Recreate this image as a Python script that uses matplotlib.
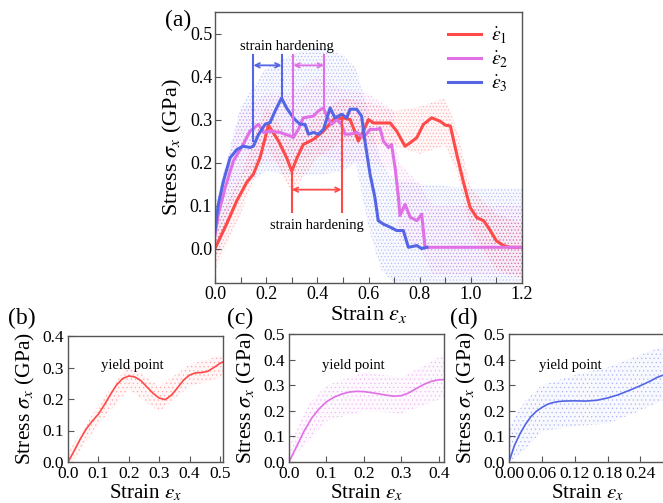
import matplotlib.pyplot as plt
import numpy as np

plt.rcParams['font.family'] = 'Liberation Serif'
plt.rcParams['mathtext.fontset'] = 'stix'
plt.rcParams['hatch.linewidth'] = 0.5

RED = '#ff4a4a'
VIOLET = '#e070e6'
BLUE = '#5466e6'

# --- (a) stress-strain curves for the three strain rates ---
x1 = [0, 0.046, 0.085, 0.124, 0.15, 0.176, 0.209, 0.248, 0.28, 0.30, 0.32, 0.345, 0.385,
      0.424, 0.463, 0.50, 0.528, 0.548, 0.56, 0.58, 0.60, 0.62, 0.685, 0.71, 0.743, 0.763,
      0.789, 0.815, 0.847, 0.88, 0.90, 0.92, 0.945, 0.97, 0.997, 1.023, 1.05, 1.076, 1.10,
      1.128, 1.154, 1.2]
s1 = [0, 0.058, 0.111, 0.154, 0.173, 0.211, 0.287, 0.25, 0.211, 0.18, 0.21, 0.242, 0.254,
      0.273, 0.30, 0.304, 0.30, 0.27, 0.25, 0.273, 0.30, 0.292, 0.292, 0.273, 0.238, 0.246,
      0.258, 0.289, 0.304, 0.296, 0.287, 0.285, 0.219, 0.157, 0.096, 0.072, 0.065, 0.042,
      0.018, 0.007, 0.003, 0.003]

x2 = [0, 0.013, 0.04, 0.072, 0.11, 0.137, 0.17, 0.19, 0.215, 0.254, 0.293, 0.306, 0.326,
      0.345, 0.385, 0.404, 0.424, 0.437, 0.456, 0.476, 0.495, 0.508, 0.528, 0.554, 0.58,
      0.606, 0.632, 0.645, 0.658, 0.678, 0.69, 0.704, 0.717, 0.723, 0.743, 0.763, 0.789,
      0.808, 0.821, 1.2]
s2 = [0.03, 0.08, 0.142, 0.204, 0.242, 0.273, 0.289, 0.27, 0.273, 0.27, 0.262, 0.258,
      0.277, 0.304, 0.308, 0.32, 0.327, 0.308, 0.289, 0.30, 0.289, 0.266, 0.266, 0.27,
      0.258, 0.277, 0.277, 0.28, 0.25, 0.235, 0.242, 0.188, 0.119, 0.077, 0.103, 0.073,
      0.065, 0.08, 0.003, 0.003]

x3 = [0, 0.013, 0.033, 0.059, 0.085, 0.11, 0.137, 0.15, 0.17, 0.196, 0.215, 0.235, 0.26,
      0.28, 0.306, 0.332, 0.352, 0.365, 0.385, 0.404, 0.424, 0.45, 0.469, 0.495, 0.515,
      0.528, 0.554, 0.573, 0.586, 0.606, 0.625, 0.638, 0.658, 0.684, 0.71, 0.736, 0.756,
      0.789, 0.808, 0.828]
s3 = [0.042, 0.103, 0.157, 0.211, 0.23, 0.238, 0.235, 0.238, 0.265, 0.289, 0.293, 0.32,
      0.35, 0.327, 0.304, 0.289, 0.289, 0.266, 0.27, 0.266, 0.277, 0.327, 0.304, 0.312,
      0.304, 0.324, 0.324, 0.308, 0.25, 0.173, 0.119, 0.065, 0.057, 0.05, 0.042, 0.042,
      0.003, 0.007, 0.0, 0.003]

# spread of the raw MD points around each curve
cx1 = [0, 0.1, 0.2, 0.3, 0.4, 0.5, 0.6, 0.7, 0.8, 0.9, 0.95, 1.0, 1.1, 1.2]
lo1 = [-0.05, 0.08, 0.24, 0.13, 0.21, 0.25, 0.24, 0.24, 0.22, 0.24, 0.17, 0.04, -0.05, -0.07]
hi1 = [0.05, 0.17, 0.33, 0.25, 0.31, 0.35, 0.34, 0.32, 0.33, 0.35, 0.27, 0.14, 0.08, 0.06]

cx2 = [0, 0.1, 0.2, 0.3, 0.4, 0.5, 0.6, 0.7, 0.72, 0.8, 0.85, 1.0, 1.2]
lo2 = [-0.02, 0.17, 0.2, 0.2, 0.22, 0.2, 0.2, 0.18, 0.02, 0.0, -0.06, -0.06, -0.06]
hi2 = [0.08, 0.32, 0.36, 0.36, 0.4, 0.37, 0.36, 0.32, 0.2, 0.15, 0.1, 0.1, 0.1]

cx3 = [0, 0.1, 0.2, 0.3, 0.4, 0.5, 0.55, 0.6, 0.65, 0.7, 0.8, 1.0, 1.2]
lo3 = [-0.03, 0.14, 0.18, 0.17, 0.17, 0.18, 0.2, 0.05, -0.05, -0.08, -0.08, -0.08, -0.08]
hi3 = [0.1, 0.33, 0.42, 0.45, 0.47, 0.45, 0.42, 0.32, 0.2, 0.16, 0.15, 0.14, 0.14]

# --- (b)-(d) smoothed initial parts ---
xb = [0, 0.02, 0.04, 0.06, 0.08, 0.10, 0.12, 0.14, 0.16, 0.18, 0.20, 0.22, 0.24, 0.26,
      0.28, 0.30, 0.32, 0.34, 0.36, 0.38, 0.40, 0.42, 0.44, 0.46, 0.48, 0.50, 0.51]
sb = [0, 0.035, 0.072, 0.105, 0.13, 0.152, 0.182, 0.215, 0.245, 0.265, 0.273, 0.27,
      0.258, 0.238, 0.218, 0.203, 0.198, 0.212, 0.235, 0.26, 0.276, 0.283, 0.284, 0.288,
      0.30, 0.313, 0.318]
bx = [0, 0.1, 0.2, 0.3, 0.4, 0.51]
blo = [-0.02, 0.12, 0.23, 0.16, 0.24, 0.27]
bhi = [0.03, 0.18, 0.31, 0.24, 0.31, 0.34]

xc = [0, 0.02, 0.04, 0.06, 0.08, 0.10, 0.12, 0.14, 0.16, 0.18, 0.20, 0.22, 0.24, 0.26,
      0.28, 0.30, 0.32, 0.34, 0.36, 0.38, 0.40, 0.414]
sc = [0, 0.06, 0.12, 0.17, 0.207, 0.235, 0.253, 0.265, 0.273, 0.276, 0.275, 0.271,
      0.266, 0.261, 0.257, 0.259, 0.27, 0.287, 0.303, 0.315, 0.321, 0.322]
cx = [0, 0.05, 0.1, 0.2, 0.3, 0.414]
clo = [0.0, 0.08, 0.16, 0.2, 0.19, 0.25]
chi = [0.06, 0.22, 0.3, 0.35, 0.33, 0.42]

xd = [0, 0.01, 0.02, 0.03, 0.04, 0.05, 0.06, 0.07, 0.08, 0.09, 0.10, 0.12, 0.14, 0.16,
      0.18, 0.20, 0.22, 0.24, 0.26, 0.27, 0.28]
sd = [0, 0.065, 0.11, 0.147, 0.177, 0.198, 0.213, 0.225, 0.232, 0.236, 0.238, 0.239,
      0.238, 0.241, 0.25, 0.263, 0.28, 0.298, 0.318, 0.33, 0.338]
dx = [0, 0.03, 0.06, 0.12, 0.18, 0.24, 0.28]
dlo = [0.0, 0.05, 0.12, 0.14, 0.15, 0.2, 0.24]
dhi = [0.14, 0.24, 0.3, 0.34, 0.37, 0.42, 0.45]

W, H = 663, 503
fig = plt.figure(figsize=(W / 100, H / 100), dpi=100)


def rect(l, r, t, b):
    return [l / W, (H - b) / H, (r - l) / W, (b - t) / H]


def cloud(ax, x, lo, hi, c, dense='.....'):
    ax.fill_between(x, lo, hi, facecolor=c, alpha=0.04, linewidth=0)
    ax.fill_between(x, lo, hi, facecolor='none', edgecolor=c, hatch=dense,
                    linewidth=0, alpha=0.35)


def style(ax, size=13):
    for sp in ax.spines.values():
        sp.set_color('#555555')
        sp.set_linewidth(1.0)
    ax.tick_params(direction='in', length=4, width=0.8, color='#555555',
                   labelsize=size, pad=2)


# main panel
ax = fig.add_axes(rect(215, 522, 12, 283))
cloud(ax, cx3, lo3, hi3, BLUE)
cloud(ax, cx2, lo2, hi2, VIOLET)
cloud(ax, cx1, lo1, hi1, RED)
ax.plot(x1, s1, color=RED, lw=2.2, label=r'$\dot{\varepsilon}_1$')
ax.plot(x2, s2, color=VIOLET, lw=2.2, label=r'$\dot{\varepsilon}_2$')
ax.plot(x3, s3, color=BLUE, lw=2.2, label=r'$\dot{\varepsilon}_3$')
ax.set_xlim(0, 1.2)
ax.set_ylim(-0.08, 0.55)
ax.set_xticks(np.arange(0, 1.21, 0.2))
ax.set_xticks(np.arange(0, 1.21, 0.1), minor=True)
ax.set_yticks(np.arange(0, 0.51, 0.1))
ax.set_xticklabels(['0.0', '0.2', '0.4', '0.6', '0.8', '1.0', '1.2'])
style(ax)
ax.tick_params(which='minor', direction='in', length=4, width=0.8, color='#555555')
ax.set_xlabel(r'Strain $\varepsilon_x$', fontsize=16, labelpad=1)
ax.set_ylabel(r'Stress $\sigma_x$ (GPa)', fontsize=16, labelpad=4)
leg = ax.legend(loc='upper right', frameon=False, fontsize=14, handlelength=1.7,
                labelspacing=0.2, borderaxespad=0.3, handletextpad=0.5)

# strain hardening brackets
def bracket(x0, x1_, y_top0, y_top1, y_bot0, y_bot1, y_arrow, c):
    ax.plot([x0, x0], [y_bot0, y_top0], color=c, lw=1.5)
    ax.plot([x1_, x1_], [y_bot1, y_top1], color=c, lw=1.5)
    ax.annotate('', xy=(x1_, y_arrow), xytext=(x0, y_arrow),
                arrowprops=dict(arrowstyle='<->', color=c, lw=1.3,
                                shrinkA=0, shrinkB=0, mutation_scale=8))


bracket(0.15, 0.26, 0.45, 0.45, 0.25, 0.35, 0.426, BLUE)
bracket(0.306, 0.426, 0.45, 0.45, 0.262, 0.327, 0.426, VIOLET)
bracket(0.30, 0.495, 0.18, 0.307, 0.084, 0.084, 0.137, RED)
ax.text(0.281, 0.47, 'strain hardening', ha='center', va='center', fontsize=10.5)
ax.text(0.398, 0.053, 'strain hardening', ha='center', va='center', fontsize=10.5)
fig.text(165 / W, 1 - 20 / H, '(a)', fontsize=17, ha='left', va='center')

# bottom row panels
panels = [
    (rect(68, 223, 336, 462), xb, sb, bx, blo, bhi, RED, (0, 0.51), (0, 0.4),
     np.arange(0, 0.51, 0.1), ['0.0', '0.1', '0.2', '0.3', '0.4', '0.5'],
     np.arange(0, 0.41, 0.1), '(b)', 8, 132),
    (rect(289, 444, 334, 462), xc, sc, cx, clo, chi, VIOLET, (0, 0.414), (0, 0.5),
     np.arange(0, 0.41, 0.1), ['0.0', '0.1', '0.2', '0.3', '0.4'],
     np.arange(0, 0.51, 0.1), '(c)', 227, 353),
    (rect(509, 665, 334, 462), xd, sd, dx, dlo, dhi, BLUE, (0, 0.285), (0, 0.5),
     np.arange(0, 0.25, 0.06), ['0.00', '0.06', '0.12', '0.18', '0.24'],
     np.arange(0, 0.51, 0.1), '(d)', 450, 570),
]
for r, xs, ys, ex, elo, ehi, c, xl, yl, xt, xtl, yt, tag, tagx, yx in panels:
    a = fig.add_axes(r)
    cloud(a, ex, elo, ehi, c, dense='....')
    a.plot(xs, ys, color=c, lw=1.2)
    a.set_xlim(*xl)
    a.set_ylim(*yl)
    a.set_xticks(xt)
    a.set_xticklabels(xtl)
    a.set_yticks(yt)
    a.set_yticklabels(['%.1f' % v for v in yt])
    style(a, size=12.5)
    a.tick_params(axis='x', pad=3)
    a.tick_params(axis='y', pad=3)
    a.set_xlabel(r'Strain $\varepsilon_x$', fontsize=15, labelpad=0)
    a.set_ylabel(r'Stress $\sigma_x$ (GPa)', fontsize=15.5, labelpad=4)
    fig.text(yx / W, 1 - 365 / H, 'yield point', fontsize=10.5, ha='center', va='center')
    fig.text(tagx / W, 1 - 318 / H, tag, fontsize=17, ha='left', va='center')

fig.savefig('out.png', dpi=100)
